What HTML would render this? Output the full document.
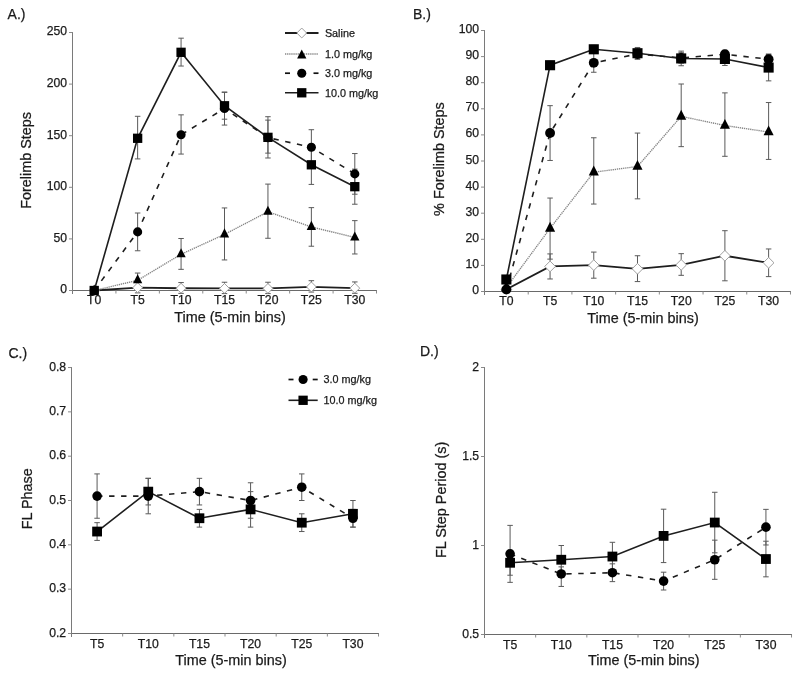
<!DOCTYPE html>
<html><head><meta charset="utf-8"><title>Figure</title>
<style>html,body{margin:0;padding:0;background:#fff;}body{width:800px;height:677px;overflow:hidden;font-family:"Liberation Sans",sans-serif;}svg{display:block;will-change:transform;}text{stroke:#1a1a1a;stroke-width:0.25px;}</style>
</head><body>
<svg width="800" height="677" viewBox="0 0 800 677" font-family='"Liberation Sans", sans-serif' fill="#1a1a1a">
<rect width="800" height="677" fill="#fff"/>
<text x="7.6" y="18.7" font-size="14">A.)</text>
<line x1="72.5" y1="32" x2="72.5" y2="294" stroke="#7a7a7a" stroke-width="1"/>
<line x1="72.5" y1="290.5" x2="377.01" y2="290.5" stroke="#6a6a6a" stroke-width="1"/>
<line x1="115.93" y1="290.5" x2="115.93" y2="293.5" stroke="#8a8a8a" stroke-width="1"/>
<line x1="159.36" y1="290.5" x2="159.36" y2="293.5" stroke="#8a8a8a" stroke-width="1"/>
<line x1="202.79" y1="290.5" x2="202.79" y2="293.5" stroke="#8a8a8a" stroke-width="1"/>
<line x1="246.22" y1="290.5" x2="246.22" y2="293.5" stroke="#8a8a8a" stroke-width="1"/>
<line x1="289.65" y1="290.5" x2="289.65" y2="293.5" stroke="#8a8a8a" stroke-width="1"/>
<line x1="333.08" y1="290.5" x2="333.08" y2="293.5" stroke="#8a8a8a" stroke-width="1"/>
<line x1="376.51" y1="290.5" x2="376.51" y2="293.5" stroke="#8a8a8a" stroke-width="1"/>
<line x1="69" y1="290.5" x2="72.5" y2="290.5" stroke="#8a8a8a" stroke-width="1"/>
<text x="67.1" y="293.4" text-anchor="end" font-size="12.2">0</text>
<line x1="69" y1="238.9" x2="72.5" y2="238.9" stroke="#8a8a8a" stroke-width="1"/>
<text x="67.1" y="241.8" text-anchor="end" font-size="12.2">50</text>
<line x1="69" y1="187.3" x2="72.5" y2="187.3" stroke="#8a8a8a" stroke-width="1"/>
<text x="67.1" y="190.2" text-anchor="end" font-size="12.2">100</text>
<line x1="69" y1="135.7" x2="72.5" y2="135.7" stroke="#8a8a8a" stroke-width="1"/>
<text x="67.1" y="138.6" text-anchor="end" font-size="12.2">150</text>
<line x1="69" y1="84.1" x2="72.5" y2="84.1" stroke="#8a8a8a" stroke-width="1"/>
<text x="67.1" y="87" text-anchor="end" font-size="12.2">200</text>
<line x1="69" y1="32.5" x2="72.5" y2="32.5" stroke="#8a8a8a" stroke-width="1"/>
<text x="67.1" y="35.4" text-anchor="end" font-size="12.2">250</text>
<text x="94.22" y="304.3" text-anchor="middle" font-size="12.2">T0</text>
<text x="137.64" y="304.3" text-anchor="middle" font-size="12.2">T5</text>
<text x="181.07" y="304.3" text-anchor="middle" font-size="12.2">T10</text>
<text x="224.5" y="304.3" text-anchor="middle" font-size="12.2">T15</text>
<text x="267.94" y="304.3" text-anchor="middle" font-size="12.2">T20</text>
<text x="311.37" y="304.3" text-anchor="middle" font-size="12.2">T25</text>
<text x="354.8" y="304.3" text-anchor="middle" font-size="12.2">T30</text>
<text transform="translate(31.0 160.4) rotate(-90)" text-anchor="middle" font-size="14.4">Forelimb Steps</text>
<text x="230" y="322" text-anchor="middle" font-size="14.4">Time (5-min bins)</text>
<line x1="137.64" y1="282.55" x2="137.64" y2="292.87" stroke="#5a5a5a" stroke-width="1"/>
<line x1="134.89" y1="282.55" x2="140.39" y2="282.55" stroke="#5a5a5a" stroke-width="1"/>
<line x1="134.89" y1="292.87" x2="140.39" y2="292.87" stroke="#5a5a5a" stroke-width="1"/>
<line x1="181.07" y1="282.55" x2="181.07" y2="293.39" stroke="#5a5a5a" stroke-width="1"/>
<line x1="178.32" y1="282.55" x2="183.82" y2="282.55" stroke="#5a5a5a" stroke-width="1"/>
<line x1="178.32" y1="293.39" x2="183.82" y2="293.39" stroke="#5a5a5a" stroke-width="1"/>
<line x1="224.5" y1="282.24" x2="224.5" y2="293.6" stroke="#5a5a5a" stroke-width="1"/>
<line x1="221.75" y1="282.24" x2="227.25" y2="282.24" stroke="#5a5a5a" stroke-width="1"/>
<line x1="221.75" y1="293.6" x2="227.25" y2="293.6" stroke="#5a5a5a" stroke-width="1"/>
<line x1="267.94" y1="282.24" x2="267.94" y2="293.6" stroke="#5a5a5a" stroke-width="1"/>
<line x1="265.19" y1="282.24" x2="270.69" y2="282.24" stroke="#5a5a5a" stroke-width="1"/>
<line x1="265.19" y1="293.6" x2="270.69" y2="293.6" stroke="#5a5a5a" stroke-width="1"/>
<line x1="311.37" y1="280.7" x2="311.37" y2="292.05" stroke="#5a5a5a" stroke-width="1"/>
<line x1="308.62" y1="280.7" x2="314.12" y2="280.7" stroke="#5a5a5a" stroke-width="1"/>
<line x1="308.62" y1="292.05" x2="314.12" y2="292.05" stroke="#5a5a5a" stroke-width="1"/>
<line x1="354.8" y1="281.93" x2="354.8" y2="293.29" stroke="#5a5a5a" stroke-width="1"/>
<line x1="352.05" y1="281.93" x2="357.55" y2="281.93" stroke="#5a5a5a" stroke-width="1"/>
<line x1="352.05" y1="293.29" x2="357.55" y2="293.29" stroke="#5a5a5a" stroke-width="1"/>
<line x1="137.64" y1="273.06" x2="137.64" y2="287.51" stroke="#5a5a5a" stroke-width="1"/>
<line x1="134.89" y1="273.06" x2="140.39" y2="273.06" stroke="#5a5a5a" stroke-width="1"/>
<line x1="134.89" y1="287.51" x2="140.39" y2="287.51" stroke="#5a5a5a" stroke-width="1"/>
<line x1="181.07" y1="238.49" x2="181.07" y2="269.34" stroke="#5a5a5a" stroke-width="1"/>
<line x1="178.32" y1="238.49" x2="183.82" y2="238.49" stroke="#5a5a5a" stroke-width="1"/>
<line x1="178.32" y1="269.34" x2="183.82" y2="269.34" stroke="#5a5a5a" stroke-width="1"/>
<line x1="224.5" y1="207.94" x2="224.5" y2="259.95" stroke="#5a5a5a" stroke-width="1"/>
<line x1="221.75" y1="207.94" x2="227.25" y2="207.94" stroke="#5a5a5a" stroke-width="1"/>
<line x1="221.75" y1="259.95" x2="227.25" y2="259.95" stroke="#5a5a5a" stroke-width="1"/>
<line x1="267.94" y1="184.1" x2="267.94" y2="238.28" stroke="#5a5a5a" stroke-width="1"/>
<line x1="265.19" y1="184.1" x2="270.69" y2="184.1" stroke="#5a5a5a" stroke-width="1"/>
<line x1="265.19" y1="238.28" x2="270.69" y2="238.28" stroke="#5a5a5a" stroke-width="1"/>
<line x1="311.37" y1="207.63" x2="311.37" y2="246.23" stroke="#5a5a5a" stroke-width="1"/>
<line x1="308.62" y1="207.63" x2="314.12" y2="207.63" stroke="#5a5a5a" stroke-width="1"/>
<line x1="308.62" y1="246.23" x2="314.12" y2="246.23" stroke="#5a5a5a" stroke-width="1"/>
<line x1="354.8" y1="220.63" x2="354.8" y2="253.97" stroke="#5a5a5a" stroke-width="1"/>
<line x1="352.05" y1="220.63" x2="357.55" y2="220.63" stroke="#5a5a5a" stroke-width="1"/>
<line x1="352.05" y1="253.97" x2="357.55" y2="253.97" stroke="#5a5a5a" stroke-width="1"/>
<line x1="137.64" y1="213" x2="137.64" y2="250.77" stroke="#5a5a5a" stroke-width="1"/>
<line x1="134.89" y1="213" x2="140.39" y2="213" stroke="#5a5a5a" stroke-width="1"/>
<line x1="134.89" y1="250.77" x2="140.39" y2="250.77" stroke="#5a5a5a" stroke-width="1"/>
<line x1="181.07" y1="114.85" x2="181.07" y2="154.07" stroke="#5a5a5a" stroke-width="1"/>
<line x1="178.32" y1="114.85" x2="183.82" y2="114.85" stroke="#5a5a5a" stroke-width="1"/>
<line x1="178.32" y1="154.07" x2="183.82" y2="154.07" stroke="#5a5a5a" stroke-width="1"/>
<line x1="224.5" y1="92.05" x2="224.5" y2="125.07" stroke="#5a5a5a" stroke-width="1"/>
<line x1="221.75" y1="92.05" x2="227.25" y2="92.05" stroke="#5a5a5a" stroke-width="1"/>
<line x1="221.75" y1="125.07" x2="227.25" y2="125.07" stroke="#5a5a5a" stroke-width="1"/>
<line x1="267.94" y1="120.12" x2="267.94" y2="153.14" stroke="#5a5a5a" stroke-width="1"/>
<line x1="265.19" y1="120.12" x2="270.69" y2="120.12" stroke="#5a5a5a" stroke-width="1"/>
<line x1="265.19" y1="153.14" x2="270.69" y2="153.14" stroke="#5a5a5a" stroke-width="1"/>
<line x1="311.37" y1="129.71" x2="311.37" y2="164.8" stroke="#5a5a5a" stroke-width="1"/>
<line x1="308.62" y1="129.71" x2="314.12" y2="129.71" stroke="#5a5a5a" stroke-width="1"/>
<line x1="308.62" y1="164.8" x2="314.12" y2="164.8" stroke="#5a5a5a" stroke-width="1"/>
<line x1="354.8" y1="153.55" x2="354.8" y2="194.21" stroke="#5a5a5a" stroke-width="1"/>
<line x1="352.05" y1="153.55" x2="357.55" y2="153.55" stroke="#5a5a5a" stroke-width="1"/>
<line x1="352.05" y1="194.21" x2="357.55" y2="194.21" stroke="#5a5a5a" stroke-width="1"/>
<line x1="137.64" y1="116.3" x2="137.64" y2="158.92" stroke="#5a5a5a" stroke-width="1"/>
<line x1="134.89" y1="116.3" x2="140.39" y2="116.3" stroke="#5a5a5a" stroke-width="1"/>
<line x1="134.89" y1="158.92" x2="140.39" y2="158.92" stroke="#5a5a5a" stroke-width="1"/>
<line x1="181.07" y1="38.18" x2="181.07" y2="66.04" stroke="#5a5a5a" stroke-width="1"/>
<line x1="178.32" y1="38.18" x2="183.82" y2="38.18" stroke="#5a5a5a" stroke-width="1"/>
<line x1="178.32" y1="66.04" x2="183.82" y2="66.04" stroke="#5a5a5a" stroke-width="1"/>
<line x1="224.5" y1="92.36" x2="224.5" y2="119.19" stroke="#5a5a5a" stroke-width="1"/>
<line x1="221.75" y1="92.36" x2="227.25" y2="92.36" stroke="#5a5a5a" stroke-width="1"/>
<line x1="221.75" y1="119.19" x2="227.25" y2="119.19" stroke="#5a5a5a" stroke-width="1"/>
<line x1="267.94" y1="116.71" x2="267.94" y2="157.99" stroke="#5a5a5a" stroke-width="1"/>
<line x1="265.19" y1="116.71" x2="270.69" y2="116.71" stroke="#5a5a5a" stroke-width="1"/>
<line x1="265.19" y1="157.99" x2="270.69" y2="157.99" stroke="#5a5a5a" stroke-width="1"/>
<line x1="311.37" y1="145.19" x2="311.37" y2="184.41" stroke="#5a5a5a" stroke-width="1"/>
<line x1="308.62" y1="145.19" x2="314.12" y2="145.19" stroke="#5a5a5a" stroke-width="1"/>
<line x1="308.62" y1="184.41" x2="314.12" y2="184.41" stroke="#5a5a5a" stroke-width="1"/>
<line x1="354.8" y1="169.14" x2="354.8" y2="204.22" stroke="#5a5a5a" stroke-width="1"/>
<line x1="352.05" y1="169.14" x2="357.55" y2="169.14" stroke="#5a5a5a" stroke-width="1"/>
<line x1="352.05" y1="204.22" x2="357.55" y2="204.22" stroke="#5a5a5a" stroke-width="1"/>
<path d="M94.22 290.5 L137.64 287.71 L181.07 288.23 L224.5 288.44 L267.94 288.44 L311.37 286.89 L354.8 288.13" stroke="#1e1e1e" stroke-width="1.8" fill="none"/>
<path d="M94.22 285.57 L99.14 290.5 L94.22 295.43 L89.29 290.5 Z" fill="#fff" stroke="#a0a0a0" stroke-width="1"/>
<path d="M137.64 282.78 L142.57 287.71 L137.64 292.64 L132.72 287.71 Z" fill="#fff" stroke="#a0a0a0" stroke-width="1"/>
<path d="M181.07 283.3 L186 288.23 L181.07 293.16 L176.15 288.23 Z" fill="#fff" stroke="#a0a0a0" stroke-width="1"/>
<path d="M224.5 283.51 L229.43 288.44 L224.5 293.36 L219.58 288.44 Z" fill="#fff" stroke="#a0a0a0" stroke-width="1"/>
<path d="M267.94 283.51 L272.86 288.44 L267.94 293.36 L263.01 288.44 Z" fill="#fff" stroke="#a0a0a0" stroke-width="1"/>
<path d="M311.37 281.96 L316.29 286.89 L311.37 291.82 L306.44 286.89 Z" fill="#fff" stroke="#a0a0a0" stroke-width="1"/>
<path d="M354.8 283.2 L359.72 288.13 L354.8 293.06 L349.87 288.13 Z" fill="#fff" stroke="#a0a0a0" stroke-width="1"/>
<path d="M94.22 290.5 L137.64 280.28 L181.07 254.28 L224.5 234.36 L267.94 211.76 L311.37 226.93 L354.8 237.46" stroke="#858585" stroke-width="1.35" fill="none" stroke-dasharray="1.3 0.8"/>
<path d="M94.22 284.42 L98.87 293.54 L89.56 293.54 Z" fill="#000"/>
<path d="M137.64 274.21 L142.29 283.32 L132.99 283.32 Z" fill="#000"/>
<path d="M181.07 248.2 L185.72 257.31 L176.42 257.31 Z" fill="#000"/>
<path d="M224.5 228.28 L229.16 237.4 L219.85 237.4 Z" fill="#000"/>
<path d="M267.94 205.68 L272.58 214.8 L263.29 214.8 Z" fill="#000"/>
<path d="M311.37 220.85 L316.01 229.97 L306.72 229.97 Z" fill="#000"/>
<path d="M354.8 231.38 L359.44 240.49 L350.15 240.49 Z" fill="#000"/>
<path d="M94.22 290.5 L137.64 231.88 L181.07 134.77 L224.5 108.56 L267.94 137.66 L311.37 147.26 L354.8 173.88" stroke="#1e1e1e" stroke-width="1.6" fill="none" stroke-dasharray="5.4 6.6"/>
<circle cx="94.22" cy="290.5" r="4.56" fill="#000"/>
<circle cx="137.64" cy="231.88" r="4.56" fill="#000"/>
<circle cx="181.07" cy="134.77" r="4.56" fill="#000"/>
<circle cx="224.5" cy="108.56" r="4.56" fill="#000"/>
<circle cx="267.94" cy="137.66" r="4.56" fill="#000"/>
<circle cx="311.37" cy="147.26" r="4.56" fill="#000"/>
<circle cx="354.8" cy="173.88" r="4.56" fill="#000"/>
<path d="M94.22 290.5 L137.64 138.28 L181.07 52.31 L224.5 105.77 L267.94 137.35 L311.37 164.8 L354.8 186.68" stroke="#1e1e1e" stroke-width="1.6" fill="none"/>
<rect x="89.56" y="285.85" width="9.3" height="9.3" fill="#000"/>
<rect x="132.99" y="133.63" width="9.3" height="9.3" fill="#000"/>
<rect x="176.42" y="47.66" width="9.3" height="9.3" fill="#000"/>
<rect x="219.85" y="101.12" width="9.3" height="9.3" fill="#000"/>
<rect x="263.29" y="132.7" width="9.3" height="9.3" fill="#000"/>
<rect x="306.72" y="160.15" width="9.3" height="9.3" fill="#000"/>
<rect x="350.15" y="182.03" width="9.3" height="9.3" fill="#000"/>
<line x1="285" y1="33" x2="318.5" y2="33" stroke="#1e1e1e" stroke-width="1.8" fill="none"/>
<path d="M301.75 28.07 L306.68 33 L301.75 37.93 L296.82 33 Z" fill="#fff" stroke="#a0a0a0" stroke-width="1"/>
<text x="324.9" y="36.8" font-size="10.8">Saline</text>
<line x1="285" y1="54" x2="318.5" y2="54" stroke="#858585" stroke-width="1.35" fill="none" stroke-dasharray="1.3 0.8"/>
<path d="M301.75 49.44 L306.4 58.56 L297.1 58.56 Z" fill="#000"/>
<text x="324.9" y="57.8" font-size="10.8">1.0 mg/kg</text>
<line x1="285" y1="73.2" x2="290" y2="73.2" stroke="#111" stroke-width="1.7"/>
<line x1="313.5" y1="73.2" x2="318.5" y2="73.2" stroke="#111" stroke-width="1.7"/>
<circle cx="301.75" cy="73.2" r="4.56" fill="#000"/>
<text x="324.9" y="77" font-size="10.8">3.0 mg/kg</text>
<line x1="285" y1="92.8" x2="318.5" y2="92.8" stroke="#1e1e1e" stroke-width="1.6" fill="none"/>
<rect x="297.1" y="88.15" width="9.3" height="9.3" fill="#000"/>
<text x="324.9" y="96.6" font-size="10.8">10.0 mg/kg</text>
<text x="413" y="19.4" font-size="14">B.)</text>
<line x1="484.5" y1="30" x2="484.5" y2="295" stroke="#7a7a7a" stroke-width="1"/>
<line x1="484.5" y1="291.5" x2="790.97" y2="291.5" stroke="#6a6a6a" stroke-width="1"/>
<line x1="528.21" y1="291.5" x2="528.21" y2="294.5" stroke="#8a8a8a" stroke-width="1"/>
<line x1="571.92" y1="291.5" x2="571.92" y2="294.5" stroke="#8a8a8a" stroke-width="1"/>
<line x1="615.63" y1="291.5" x2="615.63" y2="294.5" stroke="#8a8a8a" stroke-width="1"/>
<line x1="659.34" y1="291.5" x2="659.34" y2="294.5" stroke="#8a8a8a" stroke-width="1"/>
<line x1="703.05" y1="291.5" x2="703.05" y2="294.5" stroke="#8a8a8a" stroke-width="1"/>
<line x1="746.76" y1="291.5" x2="746.76" y2="294.5" stroke="#8a8a8a" stroke-width="1"/>
<line x1="790.47" y1="291.5" x2="790.47" y2="294.5" stroke="#8a8a8a" stroke-width="1"/>
<line x1="481" y1="291.5" x2="484.5" y2="291.5" stroke="#8a8a8a" stroke-width="1"/>
<text x="479.1" y="294" text-anchor="end" font-size="12.2">0</text>
<line x1="481" y1="265.4" x2="484.5" y2="265.4" stroke="#8a8a8a" stroke-width="1"/>
<text x="479.1" y="267.9" text-anchor="end" font-size="12.2">10</text>
<line x1="481" y1="239.3" x2="484.5" y2="239.3" stroke="#8a8a8a" stroke-width="1"/>
<text x="479.1" y="241.8" text-anchor="end" font-size="12.2">20</text>
<line x1="481" y1="213.2" x2="484.5" y2="213.2" stroke="#8a8a8a" stroke-width="1"/>
<text x="479.1" y="215.7" text-anchor="end" font-size="12.2">30</text>
<line x1="481" y1="187.1" x2="484.5" y2="187.1" stroke="#8a8a8a" stroke-width="1"/>
<text x="479.1" y="189.6" text-anchor="end" font-size="12.2">40</text>
<line x1="481" y1="161" x2="484.5" y2="161" stroke="#8a8a8a" stroke-width="1"/>
<text x="479.1" y="163.5" text-anchor="end" font-size="12.2">50</text>
<line x1="481" y1="134.9" x2="484.5" y2="134.9" stroke="#8a8a8a" stroke-width="1"/>
<text x="479.1" y="137.4" text-anchor="end" font-size="12.2">60</text>
<line x1="481" y1="108.8" x2="484.5" y2="108.8" stroke="#8a8a8a" stroke-width="1"/>
<text x="479.1" y="111.3" text-anchor="end" font-size="12.2">70</text>
<line x1="481" y1="82.7" x2="484.5" y2="82.7" stroke="#8a8a8a" stroke-width="1"/>
<text x="479.1" y="85.2" text-anchor="end" font-size="12.2">80</text>
<line x1="481" y1="56.6" x2="484.5" y2="56.6" stroke="#8a8a8a" stroke-width="1"/>
<text x="479.1" y="59.1" text-anchor="end" font-size="12.2">90</text>
<line x1="481" y1="30.5" x2="484.5" y2="30.5" stroke="#8a8a8a" stroke-width="1"/>
<text x="479.1" y="33" text-anchor="end" font-size="12.2">100</text>
<text x="506.36" y="305" text-anchor="middle" font-size="12.2">T0</text>
<text x="550.07" y="305" text-anchor="middle" font-size="12.2">T5</text>
<text x="593.77" y="305" text-anchor="middle" font-size="12.2">T10</text>
<text x="637.49" y="305" text-anchor="middle" font-size="12.2">T15</text>
<text x="681.19" y="305" text-anchor="middle" font-size="12.2">T20</text>
<text x="724.9" y="305" text-anchor="middle" font-size="12.2">T25</text>
<text x="768.62" y="305" text-anchor="middle" font-size="12.2">T30</text>
<text transform="translate(443.6 159.1) rotate(-90)" text-anchor="middle" font-size="14.4">% Forelimb Steps</text>
<text x="643" y="323" text-anchor="middle" font-size="14.4">Time (5-min bins)</text>
<line x1="550.07" y1="253.92" x2="550.07" y2="278.97" stroke="#5a5a5a" stroke-width="1"/>
<line x1="547.32" y1="253.92" x2="552.82" y2="253.92" stroke="#5a5a5a" stroke-width="1"/>
<line x1="547.32" y1="278.97" x2="552.82" y2="278.97" stroke="#5a5a5a" stroke-width="1"/>
<line x1="593.77" y1="252.09" x2="593.77" y2="278.19" stroke="#5a5a5a" stroke-width="1"/>
<line x1="591.02" y1="252.09" x2="596.52" y2="252.09" stroke="#5a5a5a" stroke-width="1"/>
<line x1="591.02" y1="278.19" x2="596.52" y2="278.19" stroke="#5a5a5a" stroke-width="1"/>
<line x1="637.49" y1="255.74" x2="637.49" y2="281.58" stroke="#5a5a5a" stroke-width="1"/>
<line x1="634.74" y1="255.74" x2="640.24" y2="255.74" stroke="#5a5a5a" stroke-width="1"/>
<line x1="634.74" y1="281.58" x2="640.24" y2="281.58" stroke="#5a5a5a" stroke-width="1"/>
<line x1="681.19" y1="253.66" x2="681.19" y2="275.32" stroke="#5a5a5a" stroke-width="1"/>
<line x1="678.44" y1="253.66" x2="683.94" y2="253.66" stroke="#5a5a5a" stroke-width="1"/>
<line x1="678.44" y1="275.32" x2="683.94" y2="275.32" stroke="#5a5a5a" stroke-width="1"/>
<line x1="724.9" y1="230.69" x2="724.9" y2="280.8" stroke="#5a5a5a" stroke-width="1"/>
<line x1="722.15" y1="230.69" x2="727.65" y2="230.69" stroke="#5a5a5a" stroke-width="1"/>
<line x1="722.15" y1="280.8" x2="727.65" y2="280.8" stroke="#5a5a5a" stroke-width="1"/>
<line x1="768.62" y1="248.96" x2="768.62" y2="276.62" stroke="#5a5a5a" stroke-width="1"/>
<line x1="765.87" y1="248.96" x2="771.37" y2="248.96" stroke="#5a5a5a" stroke-width="1"/>
<line x1="765.87" y1="276.62" x2="771.37" y2="276.62" stroke="#5a5a5a" stroke-width="1"/>
<line x1="550.07" y1="198.06" x2="550.07" y2="259.14" stroke="#5a5a5a" stroke-width="1"/>
<line x1="547.32" y1="198.06" x2="552.82" y2="198.06" stroke="#5a5a5a" stroke-width="1"/>
<line x1="547.32" y1="259.14" x2="552.82" y2="259.14" stroke="#5a5a5a" stroke-width="1"/>
<line x1="593.77" y1="137.77" x2="593.77" y2="204.06" stroke="#5a5a5a" stroke-width="1"/>
<line x1="591.02" y1="137.77" x2="596.52" y2="137.77" stroke="#5a5a5a" stroke-width="1"/>
<line x1="591.02" y1="204.06" x2="596.52" y2="204.06" stroke="#5a5a5a" stroke-width="1"/>
<line x1="637.49" y1="133.07" x2="637.49" y2="198.84" stroke="#5a5a5a" stroke-width="1"/>
<line x1="634.74" y1="133.07" x2="640.24" y2="133.07" stroke="#5a5a5a" stroke-width="1"/>
<line x1="634.74" y1="198.84" x2="640.24" y2="198.84" stroke="#5a5a5a" stroke-width="1"/>
<line x1="681.19" y1="84.01" x2="681.19" y2="146.65" stroke="#5a5a5a" stroke-width="1"/>
<line x1="678.44" y1="84.01" x2="683.94" y2="84.01" stroke="#5a5a5a" stroke-width="1"/>
<line x1="678.44" y1="146.65" x2="683.94" y2="146.65" stroke="#5a5a5a" stroke-width="1"/>
<line x1="724.9" y1="92.88" x2="724.9" y2="156.3" stroke="#5a5a5a" stroke-width="1"/>
<line x1="722.15" y1="92.88" x2="727.65" y2="92.88" stroke="#5a5a5a" stroke-width="1"/>
<line x1="722.15" y1="156.3" x2="727.65" y2="156.3" stroke="#5a5a5a" stroke-width="1"/>
<line x1="768.62" y1="102.54" x2="768.62" y2="159.43" stroke="#5a5a5a" stroke-width="1"/>
<line x1="765.87" y1="102.54" x2="771.37" y2="102.54" stroke="#5a5a5a" stroke-width="1"/>
<line x1="765.87" y1="159.43" x2="771.37" y2="159.43" stroke="#5a5a5a" stroke-width="1"/>
<line x1="550.07" y1="105.67" x2="550.07" y2="160.48" stroke="#5a5a5a" stroke-width="1"/>
<line x1="547.32" y1="105.67" x2="552.82" y2="105.67" stroke="#5a5a5a" stroke-width="1"/>
<line x1="547.32" y1="160.48" x2="552.82" y2="160.48" stroke="#5a5a5a" stroke-width="1"/>
<line x1="593.77" y1="53.47" x2="593.77" y2="72.26" stroke="#5a5a5a" stroke-width="1"/>
<line x1="591.02" y1="53.47" x2="596.52" y2="53.47" stroke="#5a5a5a" stroke-width="1"/>
<line x1="591.02" y1="72.26" x2="596.52" y2="72.26" stroke="#5a5a5a" stroke-width="1"/>
<line x1="637.49" y1="48.77" x2="637.49" y2="59.21" stroke="#5a5a5a" stroke-width="1"/>
<line x1="634.74" y1="48.77" x2="640.24" y2="48.77" stroke="#5a5a5a" stroke-width="1"/>
<line x1="634.74" y1="59.21" x2="640.24" y2="59.21" stroke="#5a5a5a" stroke-width="1"/>
<line x1="681.19" y1="52.69" x2="681.19" y2="63.12" stroke="#5a5a5a" stroke-width="1"/>
<line x1="678.44" y1="52.69" x2="683.94" y2="52.69" stroke="#5a5a5a" stroke-width="1"/>
<line x1="678.44" y1="63.12" x2="683.94" y2="63.12" stroke="#5a5a5a" stroke-width="1"/>
<line x1="724.9" y1="50.34" x2="724.9" y2="58.17" stroke="#5a5a5a" stroke-width="1"/>
<line x1="722.15" y1="50.34" x2="727.65" y2="50.34" stroke="#5a5a5a" stroke-width="1"/>
<line x1="722.15" y1="58.17" x2="727.65" y2="58.17" stroke="#5a5a5a" stroke-width="1"/>
<line x1="768.62" y1="53.99" x2="768.62" y2="64.43" stroke="#5a5a5a" stroke-width="1"/>
<line x1="765.87" y1="53.99" x2="771.37" y2="53.99" stroke="#5a5a5a" stroke-width="1"/>
<line x1="765.87" y1="64.43" x2="771.37" y2="64.43" stroke="#5a5a5a" stroke-width="1"/>
<line x1="550.07" y1="61.3" x2="550.07" y2="69.13" stroke="#5a5a5a" stroke-width="1"/>
<line x1="547.32" y1="61.3" x2="552.82" y2="61.3" stroke="#5a5a5a" stroke-width="1"/>
<line x1="547.32" y1="69.13" x2="552.82" y2="69.13" stroke="#5a5a5a" stroke-width="1"/>
<line x1="593.77" y1="45.38" x2="593.77" y2="53.21" stroke="#5a5a5a" stroke-width="1"/>
<line x1="591.02" y1="45.38" x2="596.52" y2="45.38" stroke="#5a5a5a" stroke-width="1"/>
<line x1="591.02" y1="53.21" x2="596.52" y2="53.21" stroke="#5a5a5a" stroke-width="1"/>
<line x1="637.49" y1="47.47" x2="637.49" y2="58.95" stroke="#5a5a5a" stroke-width="1"/>
<line x1="634.74" y1="47.47" x2="640.24" y2="47.47" stroke="#5a5a5a" stroke-width="1"/>
<line x1="634.74" y1="58.95" x2="640.24" y2="58.95" stroke="#5a5a5a" stroke-width="1"/>
<line x1="681.19" y1="51.12" x2="681.19" y2="65.74" stroke="#5a5a5a" stroke-width="1"/>
<line x1="678.44" y1="51.12" x2="683.94" y2="51.12" stroke="#5a5a5a" stroke-width="1"/>
<line x1="678.44" y1="65.74" x2="683.94" y2="65.74" stroke="#5a5a5a" stroke-width="1"/>
<line x1="724.9" y1="52.42" x2="724.9" y2="65.47" stroke="#5a5a5a" stroke-width="1"/>
<line x1="722.15" y1="52.42" x2="727.65" y2="52.42" stroke="#5a5a5a" stroke-width="1"/>
<line x1="722.15" y1="65.47" x2="727.65" y2="65.47" stroke="#5a5a5a" stroke-width="1"/>
<line x1="768.62" y1="54.51" x2="768.62" y2="80.87" stroke="#5a5a5a" stroke-width="1"/>
<line x1="765.87" y1="54.51" x2="771.37" y2="54.51" stroke="#5a5a5a" stroke-width="1"/>
<line x1="765.87" y1="80.87" x2="771.37" y2="80.87" stroke="#5a5a5a" stroke-width="1"/>
<path d="M506.36 289.41 L550.07 266.44 L593.77 265.14 L637.49 268.79 L681.19 264.88 L724.9 255.74 L768.62 262.79" stroke="#1e1e1e" stroke-width="1.8" fill="none"/>
<path d="M506.36 284.06 L511.71 289.41 L506.36 294.76 L501 289.41 Z" fill="#fff" stroke="#a0a0a0" stroke-width="1"/>
<path d="M550.07 261.09 L555.42 266.44 L550.07 271.8 L544.71 266.44 Z" fill="#fff" stroke="#a0a0a0" stroke-width="1"/>
<path d="M593.77 259.79 L599.13 265.14 L593.77 270.49 L588.42 265.14 Z" fill="#fff" stroke="#a0a0a0" stroke-width="1"/>
<path d="M637.49 263.44 L642.84 268.79 L637.49 274.15 L632.13 268.79 Z" fill="#fff" stroke="#a0a0a0" stroke-width="1"/>
<path d="M681.19 259.52 L686.55 264.88 L681.19 270.23 L675.84 264.88 Z" fill="#fff" stroke="#a0a0a0" stroke-width="1"/>
<path d="M724.9 250.39 L730.26 255.74 L724.9 261.1 L719.55 255.74 Z" fill="#fff" stroke="#a0a0a0" stroke-width="1"/>
<path d="M768.62 257.44 L773.97 262.79 L768.62 268.14 L763.26 262.79 Z" fill="#fff" stroke="#a0a0a0" stroke-width="1"/>
<path d="M506.36 287.58 L550.07 228.34 L593.77 172.22 L637.49 166.48 L681.19 116.37 L724.9 125.5 L768.62 132.03" stroke="#858585" stroke-width="1.35" fill="none" stroke-dasharray="1.3 0.8"/>
<path d="M506.36 280.99 L511.41 290.88 L501.31 290.88 Z" fill="#000"/>
<path d="M550.07 221.74 L555.12 231.64 L545.02 231.64 Z" fill="#000"/>
<path d="M593.77 165.62 L598.82 175.52 L588.73 175.52 Z" fill="#000"/>
<path d="M637.49 159.88 L642.53 169.78 L632.44 169.78 Z" fill="#000"/>
<path d="M681.19 109.77 L686.24 119.67 L676.14 119.67 Z" fill="#000"/>
<path d="M724.9 118.91 L729.95 128.8 L719.86 128.8 Z" fill="#000"/>
<path d="M768.62 125.43 L773.66 135.33 L763.57 135.33 Z" fill="#000"/>
<path d="M506.36 289.41 L550.07 133.07 L593.77 62.86 L637.49 53.99 L681.19 57.91 L724.9 54.25 L768.62 59.21" stroke="#1e1e1e" stroke-width="1.6" fill="none" stroke-dasharray="5.4 6.6"/>
<circle cx="506.36" cy="289.41" r="4.95" fill="#000"/>
<circle cx="550.07" cy="133.07" r="4.95" fill="#000"/>
<circle cx="593.77" cy="62.86" r="4.95" fill="#000"/>
<circle cx="637.49" cy="53.99" r="4.95" fill="#000"/>
<circle cx="681.19" cy="57.91" r="4.95" fill="#000"/>
<circle cx="724.9" cy="54.25" r="4.95" fill="#000"/>
<circle cx="768.62" cy="59.21" r="4.95" fill="#000"/>
<path d="M506.36 279.49 L550.07 65.21 L593.77 49.29 L637.49 53.21 L681.19 58.43 L724.9 58.95 L768.62 67.56" stroke="#1e1e1e" stroke-width="1.6" fill="none"/>
<rect x="501.31" y="274.44" width="10.1" height="10.1" fill="#000"/>
<rect x="545.02" y="60.16" width="10.1" height="10.1" fill="#000"/>
<rect x="588.73" y="44.24" width="10.1" height="10.1" fill="#000"/>
<rect x="632.44" y="48.16" width="10.1" height="10.1" fill="#000"/>
<rect x="676.14" y="53.38" width="10.1" height="10.1" fill="#000"/>
<rect x="719.86" y="53.9" width="10.1" height="10.1" fill="#000"/>
<rect x="763.57" y="62.51" width="10.1" height="10.1" fill="#000"/>
<text x="8.5" y="357.8" font-size="14">C.)</text>
<line x1="71.5" y1="367" x2="71.5" y2="637" stroke="#7a7a7a" stroke-width="1"/>
<line x1="71.5" y1="633.5" x2="379.02" y2="633.5" stroke="#6a6a6a" stroke-width="1"/>
<line x1="122.67" y1="633.5" x2="122.67" y2="636.5" stroke="#8a8a8a" stroke-width="1"/>
<line x1="173.84" y1="633.5" x2="173.84" y2="636.5" stroke="#8a8a8a" stroke-width="1"/>
<line x1="225.01" y1="633.5" x2="225.01" y2="636.5" stroke="#8a8a8a" stroke-width="1"/>
<line x1="276.18" y1="633.5" x2="276.18" y2="636.5" stroke="#8a8a8a" stroke-width="1"/>
<line x1="327.35" y1="633.5" x2="327.35" y2="636.5" stroke="#8a8a8a" stroke-width="1"/>
<line x1="378.52" y1="633.5" x2="378.52" y2="636.5" stroke="#8a8a8a" stroke-width="1"/>
<line x1="68" y1="633.5" x2="71.5" y2="633.5" stroke="#8a8a8a" stroke-width="1"/>
<text x="66.1" y="636.7" text-anchor="end" font-size="12.2">0.2</text>
<line x1="68" y1="589.17" x2="71.5" y2="589.17" stroke="#8a8a8a" stroke-width="1"/>
<text x="66.1" y="592.37" text-anchor="end" font-size="12.2">0.3</text>
<line x1="68" y1="544.84" x2="71.5" y2="544.84" stroke="#8a8a8a" stroke-width="1"/>
<text x="66.1" y="548.04" text-anchor="end" font-size="12.2">0.4</text>
<line x1="68" y1="500.51" x2="71.5" y2="500.51" stroke="#8a8a8a" stroke-width="1"/>
<text x="66.1" y="503.71" text-anchor="end" font-size="12.2">0.5</text>
<line x1="68" y1="456.18" x2="71.5" y2="456.18" stroke="#8a8a8a" stroke-width="1"/>
<text x="66.1" y="459.38" text-anchor="end" font-size="12.2">0.6</text>
<line x1="68" y1="411.85" x2="71.5" y2="411.85" stroke="#8a8a8a" stroke-width="1"/>
<text x="66.1" y="415.05" text-anchor="end" font-size="12.2">0.7</text>
<line x1="68" y1="367.52" x2="71.5" y2="367.52" stroke="#8a8a8a" stroke-width="1"/>
<text x="66.1" y="370.72" text-anchor="end" font-size="12.2">0.8</text>
<text x="97.09" y="648.2" text-anchor="middle" font-size="12.2">T5</text>
<text x="148.25" y="648.2" text-anchor="middle" font-size="12.2">T10</text>
<text x="199.43" y="648.2" text-anchor="middle" font-size="12.2">T15</text>
<text x="250.59" y="648.2" text-anchor="middle" font-size="12.2">T20</text>
<text x="301.76" y="648.2" text-anchor="middle" font-size="12.2">T25</text>
<text x="352.94" y="648.2" text-anchor="middle" font-size="12.2">T30</text>
<text transform="translate(32.4 498.8) rotate(-90)" text-anchor="middle" font-size="14.4">FL Phase</text>
<text x="231" y="665" text-anchor="middle" font-size="14.4">Time (5-min bins)</text>
<line x1="97.09" y1="473.91" x2="97.09" y2="518.24" stroke="#5a5a5a" stroke-width="1"/>
<line x1="94.34" y1="473.91" x2="99.84" y2="473.91" stroke="#5a5a5a" stroke-width="1"/>
<line x1="94.34" y1="518.24" x2="99.84" y2="518.24" stroke="#5a5a5a" stroke-width="1"/>
<line x1="148.25" y1="478.34" x2="148.25" y2="513.81" stroke="#5a5a5a" stroke-width="1"/>
<line x1="145.5" y1="478.34" x2="151" y2="478.34" stroke="#5a5a5a" stroke-width="1"/>
<line x1="145.5" y1="513.81" x2="151" y2="513.81" stroke="#5a5a5a" stroke-width="1"/>
<line x1="199.43" y1="478.34" x2="199.43" y2="504.94" stroke="#5a5a5a" stroke-width="1"/>
<line x1="196.68" y1="478.34" x2="202.18" y2="478.34" stroke="#5a5a5a" stroke-width="1"/>
<line x1="196.68" y1="504.94" x2="202.18" y2="504.94" stroke="#5a5a5a" stroke-width="1"/>
<line x1="250.59" y1="482.78" x2="250.59" y2="518.24" stroke="#5a5a5a" stroke-width="1"/>
<line x1="247.84" y1="482.78" x2="253.34" y2="482.78" stroke="#5a5a5a" stroke-width="1"/>
<line x1="247.84" y1="518.24" x2="253.34" y2="518.24" stroke="#5a5a5a" stroke-width="1"/>
<line x1="301.76" y1="473.91" x2="301.76" y2="500.51" stroke="#5a5a5a" stroke-width="1"/>
<line x1="299.01" y1="473.91" x2="304.51" y2="473.91" stroke="#5a5a5a" stroke-width="1"/>
<line x1="299.01" y1="500.51" x2="304.51" y2="500.51" stroke="#5a5a5a" stroke-width="1"/>
<line x1="352.94" y1="509.38" x2="352.94" y2="527.11" stroke="#5a5a5a" stroke-width="1"/>
<line x1="350.19" y1="509.38" x2="355.69" y2="509.38" stroke="#5a5a5a" stroke-width="1"/>
<line x1="350.19" y1="527.11" x2="355.69" y2="527.11" stroke="#5a5a5a" stroke-width="1"/>
<line x1="97.09" y1="522.67" x2="97.09" y2="540.41" stroke="#5a5a5a" stroke-width="1"/>
<line x1="94.34" y1="522.67" x2="99.84" y2="522.67" stroke="#5a5a5a" stroke-width="1"/>
<line x1="94.34" y1="540.41" x2="99.84" y2="540.41" stroke="#5a5a5a" stroke-width="1"/>
<line x1="148.25" y1="478.34" x2="148.25" y2="504.94" stroke="#5a5a5a" stroke-width="1"/>
<line x1="145.5" y1="478.34" x2="151" y2="478.34" stroke="#5a5a5a" stroke-width="1"/>
<line x1="145.5" y1="504.94" x2="151" y2="504.94" stroke="#5a5a5a" stroke-width="1"/>
<line x1="199.43" y1="509.38" x2="199.43" y2="527.11" stroke="#5a5a5a" stroke-width="1"/>
<line x1="196.68" y1="509.38" x2="202.18" y2="509.38" stroke="#5a5a5a" stroke-width="1"/>
<line x1="196.68" y1="527.11" x2="202.18" y2="527.11" stroke="#5a5a5a" stroke-width="1"/>
<line x1="250.59" y1="491.64" x2="250.59" y2="527.11" stroke="#5a5a5a" stroke-width="1"/>
<line x1="247.84" y1="491.64" x2="253.34" y2="491.64" stroke="#5a5a5a" stroke-width="1"/>
<line x1="247.84" y1="527.11" x2="253.34" y2="527.11" stroke="#5a5a5a" stroke-width="1"/>
<line x1="301.76" y1="513.81" x2="301.76" y2="531.54" stroke="#5a5a5a" stroke-width="1"/>
<line x1="299.01" y1="513.81" x2="304.51" y2="513.81" stroke="#5a5a5a" stroke-width="1"/>
<line x1="299.01" y1="531.54" x2="304.51" y2="531.54" stroke="#5a5a5a" stroke-width="1"/>
<line x1="352.94" y1="500.51" x2="352.94" y2="527.11" stroke="#5a5a5a" stroke-width="1"/>
<line x1="350.19" y1="500.51" x2="355.69" y2="500.51" stroke="#5a5a5a" stroke-width="1"/>
<line x1="350.19" y1="527.11" x2="355.69" y2="527.11" stroke="#5a5a5a" stroke-width="1"/>
<path d="M97.09 496.08 L148.25 496.08 L199.43 491.64 L250.59 500.51 L301.76 487.21 L352.94 518.24" stroke="#1e1e1e" stroke-width="1.6" fill="none" stroke-dasharray="5.4 6.6"/>
<circle cx="97.09" cy="496.08" r="4.8" fill="#000"/>
<circle cx="148.25" cy="496.08" r="4.8" fill="#000"/>
<circle cx="199.43" cy="491.64" r="4.8" fill="#000"/>
<circle cx="250.59" cy="500.51" r="4.8" fill="#000"/>
<circle cx="301.76" cy="487.21" r="4.8" fill="#000"/>
<circle cx="352.94" cy="518.24" r="4.8" fill="#000"/>
<path d="M97.09 531.54 L148.25 491.64 L199.43 518.24 L250.59 509.38 L301.76 522.67 L352.94 513.81" stroke="#1e1e1e" stroke-width="1.6" fill="none"/>
<rect x="92.19" y="526.64" width="9.8" height="9.8" fill="#000"/>
<rect x="143.35" y="486.74" width="9.8" height="9.8" fill="#000"/>
<rect x="194.53" y="513.34" width="9.8" height="9.8" fill="#000"/>
<rect x="245.69" y="504.48" width="9.8" height="9.8" fill="#000"/>
<rect x="296.87" y="517.77" width="9.8" height="9.8" fill="#000"/>
<rect x="348.04" y="508.91" width="9.8" height="9.8" fill="#000"/>
<line x1="288.5" y1="379.5" x2="293.5" y2="379.5" stroke="#111" stroke-width="1.7"/>
<line x1="312.7" y1="379.5" x2="317.7" y2="379.5" stroke="#111" stroke-width="1.7"/>
<circle cx="303.1" cy="379.5" r="4.56" fill="#000"/>
<text x="323.5" y="383.3" font-size="10.8">3.0 mg/kg</text>
<line x1="288.5" y1="400.3" x2="317.7" y2="400.3" stroke="#1e1e1e" stroke-width="1.6" fill="none"/>
<rect x="298.45" y="395.65" width="9.3" height="9.3" fill="#000"/>
<text x="323.5" y="404.1" font-size="10.8">10.0 mg/kg</text>
<text x="420" y="356.3" font-size="14">D.)</text>
<line x1="484.5" y1="367" x2="484.5" y2="638" stroke="#7a7a7a" stroke-width="1"/>
<line x1="484.5" y1="634.5" x2="792.02" y2="634.5" stroke="#6a6a6a" stroke-width="1"/>
<line x1="535.67" y1="634.5" x2="535.67" y2="637.5" stroke="#8a8a8a" stroke-width="1"/>
<line x1="586.84" y1="634.5" x2="586.84" y2="637.5" stroke="#8a8a8a" stroke-width="1"/>
<line x1="638.01" y1="634.5" x2="638.01" y2="637.5" stroke="#8a8a8a" stroke-width="1"/>
<line x1="689.18" y1="634.5" x2="689.18" y2="637.5" stroke="#8a8a8a" stroke-width="1"/>
<line x1="740.35" y1="634.5" x2="740.35" y2="637.5" stroke="#8a8a8a" stroke-width="1"/>
<line x1="791.52" y1="634.5" x2="791.52" y2="637.5" stroke="#8a8a8a" stroke-width="1"/>
<line x1="481" y1="634.5" x2="484.5" y2="634.5" stroke="#8a8a8a" stroke-width="1"/>
<text x="479.1" y="637.8" text-anchor="end" font-size="12.2">0.5</text>
<line x1="481" y1="545.5" x2="484.5" y2="545.5" stroke="#8a8a8a" stroke-width="1"/>
<text x="479.1" y="548.8" text-anchor="end" font-size="12.2">1</text>
<line x1="481" y1="456.5" x2="484.5" y2="456.5" stroke="#8a8a8a" stroke-width="1"/>
<text x="479.1" y="459.8" text-anchor="end" font-size="12.2">1.5</text>
<line x1="481" y1="367.5" x2="484.5" y2="367.5" stroke="#8a8a8a" stroke-width="1"/>
<text x="479.1" y="370.8" text-anchor="end" font-size="12.2">2</text>
<text x="510.08" y="649" text-anchor="middle" font-size="12.2">T5</text>
<text x="561.25" y="649" text-anchor="middle" font-size="12.2">T10</text>
<text x="612.42" y="649" text-anchor="middle" font-size="12.2">T15</text>
<text x="663.6" y="649" text-anchor="middle" font-size="12.2">T20</text>
<text x="714.76" y="649" text-anchor="middle" font-size="12.2">T25</text>
<text x="765.93" y="649" text-anchor="middle" font-size="12.2">T30</text>
<text transform="translate(445.5 499.9) rotate(-90)" text-anchor="middle" font-size="14.4">FL Step Period (s)</text>
<text x="643.8" y="665.4" text-anchor="middle" font-size="14.4">Time (5-min bins)</text>
<line x1="510.08" y1="525.39" x2="510.08" y2="582.35" stroke="#5a5a5a" stroke-width="1"/>
<line x1="507.33" y1="525.39" x2="512.84" y2="525.39" stroke="#5a5a5a" stroke-width="1"/>
<line x1="507.33" y1="582.35" x2="512.84" y2="582.35" stroke="#5a5a5a" stroke-width="1"/>
<line x1="561.25" y1="566.86" x2="561.25" y2="586.44" stroke="#5a5a5a" stroke-width="1"/>
<line x1="558.5" y1="566.86" x2="564" y2="566.86" stroke="#5a5a5a" stroke-width="1"/>
<line x1="558.5" y1="586.44" x2="564" y2="586.44" stroke="#5a5a5a" stroke-width="1"/>
<line x1="612.42" y1="563.83" x2="612.42" y2="581.63" stroke="#5a5a5a" stroke-width="1"/>
<line x1="609.67" y1="563.83" x2="615.17" y2="563.83" stroke="#5a5a5a" stroke-width="1"/>
<line x1="609.67" y1="581.63" x2="615.17" y2="581.63" stroke="#5a5a5a" stroke-width="1"/>
<line x1="663.6" y1="572.2" x2="663.6" y2="590" stroke="#5a5a5a" stroke-width="1"/>
<line x1="660.85" y1="572.2" x2="666.35" y2="572.2" stroke="#5a5a5a" stroke-width="1"/>
<line x1="660.85" y1="590" x2="666.35" y2="590" stroke="#5a5a5a" stroke-width="1"/>
<line x1="714.76" y1="540.16" x2="714.76" y2="579.32" stroke="#5a5a5a" stroke-width="1"/>
<line x1="712.01" y1="540.16" x2="717.51" y2="540.16" stroke="#5a5a5a" stroke-width="1"/>
<line x1="712.01" y1="579.32" x2="717.51" y2="579.32" stroke="#5a5a5a" stroke-width="1"/>
<line x1="765.93" y1="509.37" x2="765.93" y2="544.97" stroke="#5a5a5a" stroke-width="1"/>
<line x1="763.18" y1="509.37" x2="768.68" y2="509.37" stroke="#5a5a5a" stroke-width="1"/>
<line x1="763.18" y1="544.97" x2="768.68" y2="544.97" stroke="#5a5a5a" stroke-width="1"/>
<line x1="510.08" y1="550.31" x2="510.08" y2="575.23" stroke="#5a5a5a" stroke-width="1"/>
<line x1="507.33" y1="550.31" x2="512.84" y2="550.31" stroke="#5a5a5a" stroke-width="1"/>
<line x1="507.33" y1="575.23" x2="512.84" y2="575.23" stroke="#5a5a5a" stroke-width="1"/>
<line x1="561.25" y1="545.5" x2="561.25" y2="573.98" stroke="#5a5a5a" stroke-width="1"/>
<line x1="558.5" y1="545.5" x2="564" y2="545.5" stroke="#5a5a5a" stroke-width="1"/>
<line x1="558.5" y1="573.98" x2="564" y2="573.98" stroke="#5a5a5a" stroke-width="1"/>
<line x1="612.42" y1="542.3" x2="612.42" y2="570.78" stroke="#5a5a5a" stroke-width="1"/>
<line x1="609.67" y1="542.3" x2="615.17" y2="542.3" stroke="#5a5a5a" stroke-width="1"/>
<line x1="609.67" y1="570.78" x2="615.17" y2="570.78" stroke="#5a5a5a" stroke-width="1"/>
<line x1="663.6" y1="509.19" x2="663.6" y2="562.59" stroke="#5a5a5a" stroke-width="1"/>
<line x1="660.85" y1="509.19" x2="666.35" y2="509.19" stroke="#5a5a5a" stroke-width="1"/>
<line x1="660.85" y1="562.59" x2="666.35" y2="562.59" stroke="#5a5a5a" stroke-width="1"/>
<line x1="714.76" y1="492.28" x2="714.76" y2="552.8" stroke="#5a5a5a" stroke-width="1"/>
<line x1="712.01" y1="492.28" x2="717.51" y2="492.28" stroke="#5a5a5a" stroke-width="1"/>
<line x1="712.01" y1="552.8" x2="717.51" y2="552.8" stroke="#5a5a5a" stroke-width="1"/>
<line x1="765.93" y1="541.23" x2="765.93" y2="576.83" stroke="#5a5a5a" stroke-width="1"/>
<line x1="763.18" y1="541.23" x2="768.68" y2="541.23" stroke="#5a5a5a" stroke-width="1"/>
<line x1="763.18" y1="576.83" x2="768.68" y2="576.83" stroke="#5a5a5a" stroke-width="1"/>
<path d="M510.08 553.87 L561.25 573.98 L612.42 572.73 L663.6 581.1 L714.76 559.74 L765.93 527.17" stroke="#1e1e1e" stroke-width="1.6" fill="none" stroke-dasharray="5.4 6.6"/>
<circle cx="510.08" cy="553.87" r="4.8" fill="#000"/>
<circle cx="561.25" cy="573.98" r="4.8" fill="#000"/>
<circle cx="612.42" cy="572.73" r="4.8" fill="#000"/>
<circle cx="663.6" cy="581.1" r="4.8" fill="#000"/>
<circle cx="714.76" cy="559.74" r="4.8" fill="#000"/>
<circle cx="765.93" cy="527.17" r="4.8" fill="#000"/>
<path d="M510.08 562.77 L561.25 559.74 L612.42 556.54 L663.6 535.89 L714.76 522.54 L765.93 559.03" stroke="#1e1e1e" stroke-width="1.6" fill="none"/>
<rect x="505.19" y="557.87" width="9.8" height="9.8" fill="#000"/>
<rect x="556.36" y="554.84" width="9.8" height="9.8" fill="#000"/>
<rect x="607.52" y="551.64" width="9.8" height="9.8" fill="#000"/>
<rect x="658.7" y="530.99" width="9.8" height="9.8" fill="#000"/>
<rect x="709.87" y="517.64" width="9.8" height="9.8" fill="#000"/>
<rect x="761.03" y="554.13" width="9.8" height="9.8" fill="#000"/>
</svg>
</body></html>
